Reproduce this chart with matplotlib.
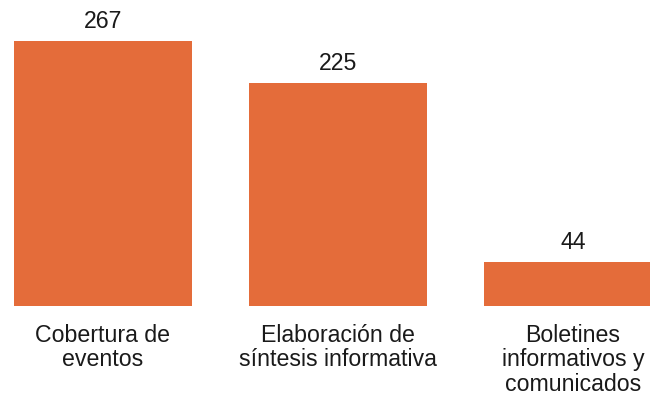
import matplotlib.pyplot as plt
import numpy as np

plt.rcParams['font.family'] = ['Liberation Sans', 'DejaVu Sans']

categories = ['Cobertura de\neventos',
              'Elaboración de\nsíntesis informativa',
              'Boletines\ninformativos y\ncomunicados']
values = [267, 225, 44]

bar_color = '#E46C3A'

fig = plt.figure(figsize=(6.5, 3.94), dpi=100)
ax = fig.add_axes([0, 88 / 394, 1, 306 / 394])

x = np.arange(len(categories))
bars = ax.bar(x, values, width=0.757, color=bar_color)

ax.set_xlim(-0.438, -0.438 + 650 / 235)
ax.set_ylim(0, 308.3)

for xi, v in zip(x, values):
    ax.text(xi, v + 8, str(v), ha='center', va='bottom', fontsize=16.7, color='#1a1a1a')

ax.set_xticks(x)
ax.set_xticklabels(categories, fontsize=16.7, color='#1a1a1a', linespacing=1.08)
ax.tick_params(axis='x', length=0, pad=13)
ax.set_yticks([])
for s in ax.spines.values():
    s.set_visible(False)

fig.savefig('out.png', dpi=100)
